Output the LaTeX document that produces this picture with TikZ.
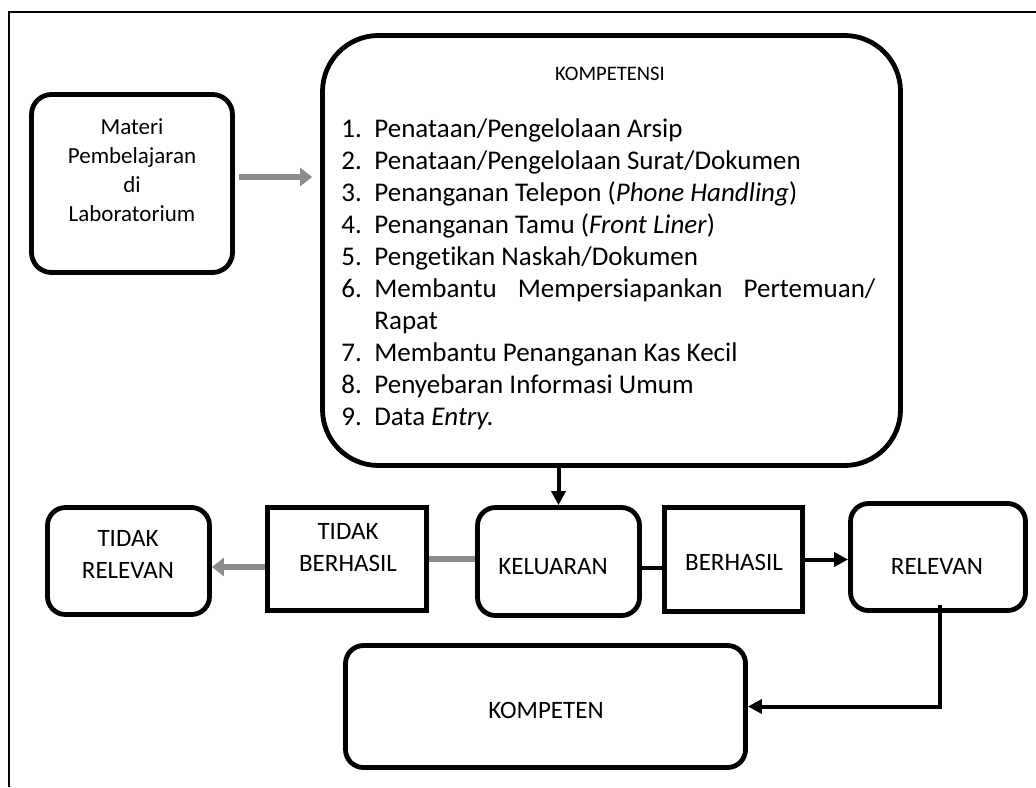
\documentclass[tikz,border=0pt]{standalone}
\usepackage{fontspec}
\setmainfont[Ligatures=NoCommon]{Carlito}
\usetikzlibrary{arrows.meta,calc}
\definecolor{arrgray}{RGB}{140,140,140}
\begin{document}
\begin{tikzpicture}[x=0.5pt,y=-0.5pt,
  box/.style={draw=black,line width=2.4pt,rounded corners=9pt,inner sep=0pt},
  rbox/.style={draw=black,line width=2.4pt,inner sep=0pt},
  lbl/.style={font=\fontsize{12.5}{16}\selectfont,align=center,inner sep=0pt},
  mlbl/.style={font=\fontsize{11.5}{14.5}\selectfont,align=center,inner sep=0pt},
  listtext/.style={font=\fontsize{13.5}{16}\selectfont,align=left,inner sep=0pt},
  garrow/.style={draw=arrgray,line width=3pt,-{Triangle[length=6pt,width=9pt]}},
  gline/.style={draw=arrgray,line width=3pt},
  barrow/.style={draw=black,line width=2pt,-{Triangle[length=7pt,width=7pt]}},
  bline/.style={draw=black,line width=2pt}]
\useasboundingbox (0,0) rectangle (1036,787);
% outer frame
\draw[line width=1pt] (9,787) -- (9,12) -- (1036,12);
% Materi
\node[box,rounded corners=10pt,minimum width=100.5pt,minimum height=89pt] (materi) at (132,183.5) {};
\node[mlbl] (materiT) at (132,170) {Materi\\Pembelajaran\\di\\Laboratorium};
% Kompetensi
\node[box,rounded corners=28pt,minimum width=289pt,minimum height=215pt] (komp) at (611.5,250.5) {};
\node[font=\fontsize{10.3}{12}\selectfont,inner sep=0pt] (kompH) at (610,74) {KOMPETENSI};
\node[listtext,anchor=north west] (list) at (341,118) {%
\makebox[16.5pt][l]{1.}Penataan/Pengelolaan Arsip\\
\makebox[16.5pt][l]{2.}Penataan/Pengelolaan Surat/Dokumen\\
\makebox[16.5pt][l]{3.}Penanganan Telepon (\textit{Phone Handling})\\
\makebox[16.5pt][l]{4.}Penanganan Tamu (\textit{Front Liner})\\
\makebox[16.5pt][l]{5.}Pengetikan Naskah/Dokumen\\
\hbox to 267pt{\makebox[16.5pt][l]{6.}Membantu\hfill Mempersiapankan\hfill Pertemuan/}\\
\hspace*{16.5pt}Rapat\\
\makebox[16.5pt][l]{7.}Membantu Penanganan Kas Kecil\\
\makebox[16.5pt][l]{8.}Penyebaran Informasi Umum\\
\makebox[16.5pt][l]{9.}Data \textit{Entry.}};
% bottom row
\node[box,minimum width=81pt,minimum height=53.5pt] (tidakrel) at (128.5,561) {};
\node[lbl] (tidakrelT) at (128,554) {TIDAK\\RELEVAN};
\node[rbox,minimum width=79.5pt,minimum height=51.5pt] (tidakber) at (347,559) {};
\node[lbl] (tidakberT) at (348,548) {TIDAK\\BERHASIL};
\node[box,minimum width=81pt,minimum height=54pt] (kel) at (558.5,561.5) {};
\node[lbl] (kelT) at (553,567) {KELUARAN};
\node[rbox,minimum width=69pt,minimum height=52pt] (ber) at (733.5,559.5) {};
\node[lbl] (berT) at (734,562) {BERHASIL};
\node[box,minimum width=87.5pt,minimum height=53.5pt] (rel) at (938,557) {};
\node[lbl] (relT) at (937,566) {RELEVAN};
\node[box,minimum width=200pt,minimum height=61pt] (kompeten) at (545.5,706.5) {};
\node[lbl] (kompetenT) at (546,710) {KOMPETEN};
% connectors
\coordinate (a1) at ([yshift=3.25pt]materi.east);
\draw[garrow,shorten <=2pt,shorten >=4pt] (a1) -- (komp.west |- a1);
\draw[barrow] (kel.north |- komp.south) -- (kel.north);
\draw[gline] (kel.west |- tidakber.east) -- (tidakber.east);
\coordinate (a2) at ([yshift=-4pt]tidakber.west);
\draw[garrow] (a2) -- (tidakrel.east |- a2);
\coordinate (a3) at ([yshift=-3.25pt]kel.east);
\draw[bline] (a3) -- (ber.west |- a3);
\draw[barrow] (ber.east) -- (rel.west |- ber.east);
\coordinate (a4) at ([xshift=1pt,yshift=3.75pt]rel.south);
\draw[barrow] (a4) |- (kompeten.east);
\end{tikzpicture}
\end{document}
